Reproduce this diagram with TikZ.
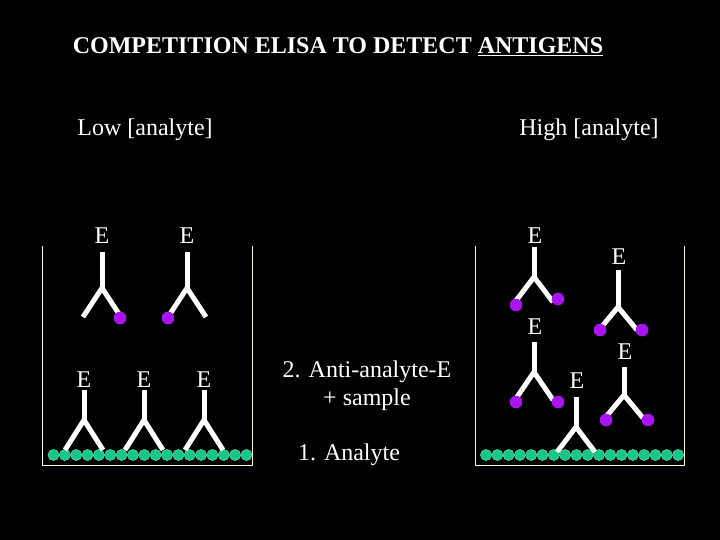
\documentclass[tikz,border=0pt]{standalone}
\usepackage{fontspec}
\setmainfont{Liberation Serif}
\begin{document}
\begin{tikzpicture}[x=1pt,y=-1pt,
  txt/.style={text=white,font=\fontsize{24}{28}\selectfont,inner sep=0pt},
  etxt/.style={text=white,font=\fontsize{24}{28}\selectfont,inner sep=0pt},
  arm/.style={white,line width=5pt},
  wall/.style={draw=yellow!20!white,line width=0.8pt},
  bead/.style={fill={rgb,255:red,20;green,200;blue,140},draw={rgb,255:red,120;green,230;blue,180},line width=0.4pt},
  dot/.style={fill={rgb,255:red,170;green,20;blue,240}}]
\fill[black] (0,0) rectangle (720,540);
\useasboundingbox (0,0) rectangle (720,540);
% antibody: x, top, fork, end
\newcommand\antib[4]{\draw[arm] (#1,#2) -- (#1,#3); \draw[arm,line join=miter] (#1-19,#4) -- (#1,#3) -- (#1+19,#4);}
\node[txt,font=\fontsize{24}{28}\selectfont\bfseries] (title) at (338,47) {COMPETITION ELISA TO DETECT \underline{ANTIGENS}};
\node[txt] (low) at (145,130) {Low [analyte]};
\node[txt] (high) at (589,130) {High [analyte]};
\node[txt,align=center] (step2) at (367,386) {2. Anti-analyte-E\\+ sample};
\node[txt] (step1) at (349,455) {1. Analyte};
% wells
\draw[wall] (42,246) -- (42,465) -- (252,465) -- (252,246);
\draw[wall] (475,246) -- (475,465) -- (684,465) -- (684,246);
\foreach \i in {0,...,17}{
  \filldraw[bead] (53.5+\i*11.35,455) circle (5.6);
  \filldraw[bead] (486+\i*11.3,455) circle (5.6);
}
% left well
\antib{84}{390}{420}{450} \node[etxt] at (84,380) {E};
\antib{144}{390}{420}{450} \node[etxt] at (144,380) {E};
\antib{204}{390}{420}{450} \node[etxt] at (204,380) {E};
\antib{102}{252}{288}{317} \node[etxt] at (102,236) {E};
\fill[dot] (120,318) circle (6.3);
\antib{187}{252}{288}{317} \node[etxt] at (187,236) {E};
\fill[dot] (168,318) circle (6.3);
% right well
\antib{534}{247}{277}{302} \node[etxt] at (535,236) {E};
\fill[dot] (516,305) circle (6.3); \fill[dot] (558,299) circle (6.3);
\antib{618}{270}{307}{330} \node[etxt] at (619,257) {E};
\fill[dot] (600,330) circle (6.3); \fill[dot] (642,330) circle (6.3);
\antib{534}{342}{372}{400} \node[etxt] at (535,327) {E};
\fill[dot] (516,402) circle (6.3); \fill[dot] (558,402) circle (6.3);
\antib{624}{367}{395}{418} \node[etxt] at (625,352) {E};
\fill[dot] (606,420) circle (6.3); \fill[dot] (648,420) circle (6.3);
\antib{576}{397}{427}{452} \node[etxt] at (577,381) {E};
\end{tikzpicture}
\end{document}
